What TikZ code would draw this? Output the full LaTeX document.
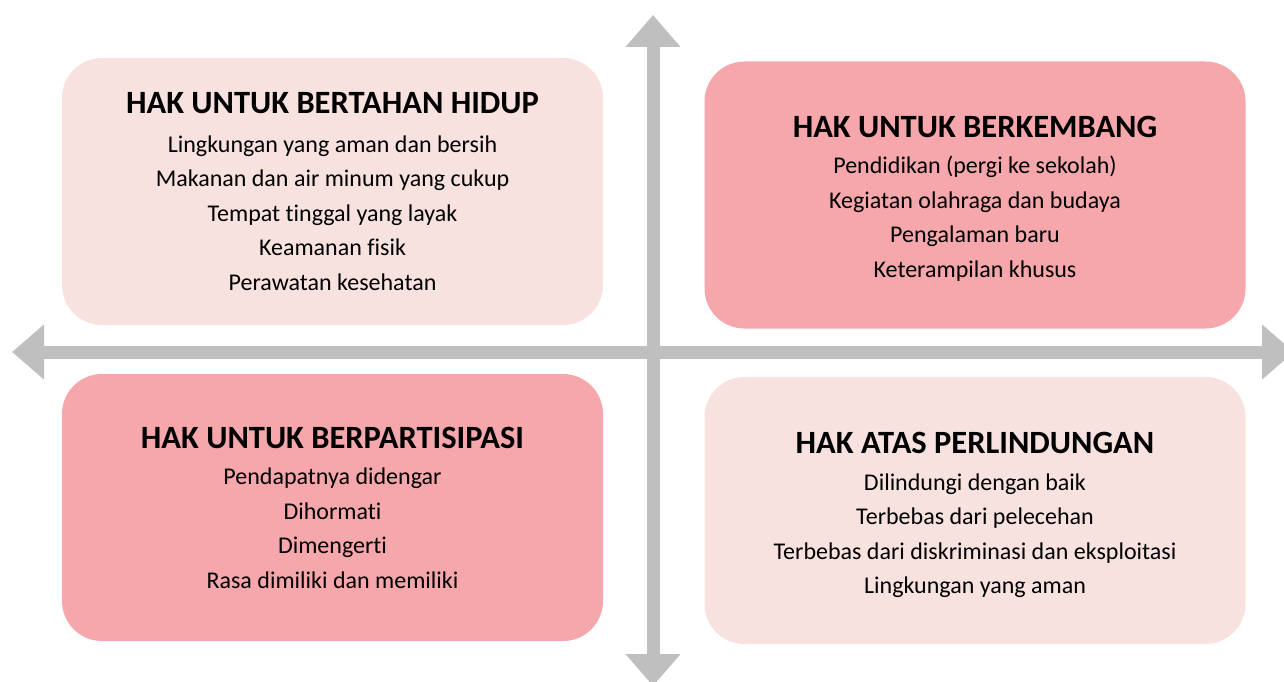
\documentclass[tikz,border=0pt]{standalone}
\usepackage{fontspec}
\setmainfont{Carlito}[RawFeature={-liga}]
\usetikzlibrary{arrows.meta, positioning}
\definecolor{palepink}{HTML}{F8E2E0}
\definecolor{rosepink}{HTML}{F5A7AC}
\definecolor{axisgray}{HTML}{BFBFBF}
\tikzset{
    % quadrant boxes and the two gray axes
    quadrant/.style = {rectangle, rounded corners=40pt, minimum width=541pt, minimum height=267pt, text centered, align=center, font=\fontsize{24}{34.5}\selectfont},
    axis/.style = {line width=13pt, draw=axisgray, {Triangle[length=32pt,width=53pt]}-{Triangle[length=32pt,width=53pt]}}
}
\newcommand{\quadtitle}[2][2pt]{{\bfseries\fontsize{32.5}{34.5}\selectfont #2}\\[#1]}

\begin{document}
\begin{tikzpicture}[x=1pt, y=-1pt]
\useasboundingbox (0,0) rectangle (1284,682);

\coordinate (west) at (12,352);
\coordinate (east) at (1294,352);
\coordinate (north) at (653,15);
\coordinate (south) at (653,686);
\draw[axis] (west) -- (east);
\draw[axis] (north) -- (south);

\node[quadrant, fill=palepink] (survival) at (332.5,191.5) {\quadtitle[4pt]{HAK UNTUK BERTAHAN HIDUP}
  Lingkungan yang aman dan bersih\\ Makanan dan air minum yang cukup\\ Tempat tinggal yang layak\\ Keamanan fisik\\ Perawatan kesehatan};
\node[quadrant, fill=rosepink] (growth) at (975,195) {\rule{0pt}{28pt}\quadtitle{HAK UNTUK BERKEMBANG}
  Pendidikan (pergi ke sekolah)\\ Kegiatan olahraga dan budaya\\ Pengalaman baru\\ Keterampilan khusus};
\node[quadrant, fill=rosepink] (participation) at (332.5,507.5) {\quadtitle{HAK UNTUK BERPARTISIPASI}
  Pendapatnya didengar\\ Dihormati\\ Dimengerti\\ Rasa dimiliki dan memiliki};
\node[quadrant, fill=palepink] (protection) at (975,510.5) {\rule{0pt}{31pt}\quadtitle{HAK ATAS PERLINDUNGAN}
  Dilindungi dengan baik\\ Terbebas dari pelecehan\\ Terbebas dari diskriminasi dan eksploitasi\\ Lingkungan yang aman};

\end{tikzpicture}
\end{document}
